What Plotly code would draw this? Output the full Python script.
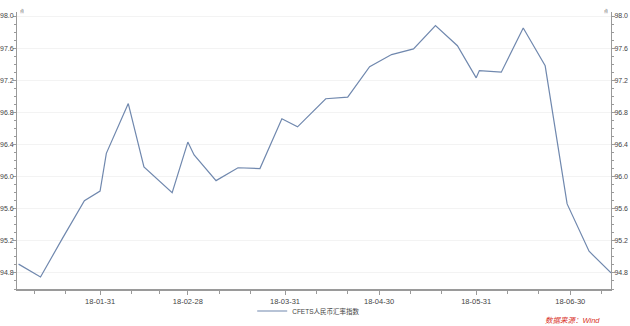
import plotly.graph_objects as go

dates = ["2018-01-05", "2018-01-12", "2018-01-19", "2018-01-26", "2018-01-31",
         "2018-02-02", "2018-02-09", "2018-02-14", "2018-02-23", "2018-02-28",
         "2018-03-02", "2018-03-09", "2018-03-16", "2018-03-23", "2018-03-30",
         "2018-04-04", "2018-04-13", "2018-04-20", "2018-04-27", "2018-05-04",
         "2018-05-11", "2018-05-18", "2018-05-25", "2018-05-31", "2018-06-01",
         "2018-06-08", "2018-06-15", "2018-06-22", "2018-06-29", "2018-07-06",
         "2018-07-13"]
values = [94.91, 94.75, 95.23, 95.70, 95.82,
          96.29, 96.91, 96.12, 95.80, 96.43,
          96.27, 95.95, 96.11, 96.10, 96.72,
          96.62, 96.97, 96.99, 97.37, 97.52,
          97.59, 97.88, 97.63, 97.23, 97.32,
          97.30, 97.85, 97.38, 95.66, 95.07,
          94.80]
series_name = "CFETS人民币汇率指数"
x_ticks = ["2018-01-31", "2018-02-28", "2018-03-31", "2018-04-30", "2018-05-31", "2018-06-30"]
x_tick_labels = ["18-01-31", "18-02-28", "18-03-31", "18-04-30", "18-05-31", "18-06-30"]
x_minor = ["2018-01-10", "2018-01-20", "2018-02-10", "2018-02-19", "2018-03-10", "2018-03-20",
           "2018-04-10", "2018-04-20", "2018-05-10", "2018-05-20", "2018-06-10", "2018-06-20",
           "2018-07-10"]
y_ticks = [94.8, 95.2, 95.6, 96.0, 96.4, 96.8, 97.2, 97.6, 98.0]

LINE = "#7088ae"
AX = "#9a9a9a"
TXT = "#444444"
FONT = "Liberation Sans, Noto Sans CJK SC, sans-serif"

fig = go.Figure()
fig.add_trace(go.Scatter(x=dates, y=values, mode="lines", name=series_name,
                         line=dict(color=LINE, width=1.2)))
fig.add_trace(go.Scatter(x=dates, y=values, mode="lines", yaxis="y2", showlegend=False,
                         line=dict(color="rgba(0,0,0,0)", width=0), hoverinfo="skip"))

yaxis_common = dict(
    range=[94.6, 98.05], tickvals=y_ticks, ticktext=[f"{v:.1f}" for v in y_ticks],
    ticks="outside", ticklen=3, tickcolor=AX, showline=True, linecolor=AX, linewidth=1,
    tickfont=dict(size=7, color=TXT, family=FONT), zeroline=False, automargin=False,
    ticklabelstandoff=-2,
    minor=dict(dtick=0.1, tick0=94.6, ticks="outside", ticklen=2, tickcolor=AX, showgrid=False),
)

fig.update_layout(
    width=630, height=326,
    margin=dict(l=17, r=19, t=12, b=37),
    paper_bgcolor="white", plot_bgcolor="white",
    font=dict(family=FONT, color=TXT),
    xaxis=dict(range=["2018-01-04 12:00", "2018-07-13"], tickvals=x_ticks, ticktext=x_tick_labels,
               ticks="outside", ticklen=4, tickcolor=AX, showline=True, linecolor=AX, linewidth=1.5,
               showgrid=False, tickfont=dict(size=7.5, color=TXT, family=FONT), automargin=False,
               minor=dict(tickvals=x_minor, ticks="outside", ticklen=3, tickcolor=AX, showgrid=False)),
    yaxis=dict(side="left", showgrid=True, gridcolor="#f3f3f3", gridwidth=1, **yaxis_common),
    yaxis2=dict(side="right", overlaying="y", showgrid=False, **yaxis_common),
    showlegend=True,
    legend=dict(orientation="h", x=0.49, xanchor="center", xref="container",
                y=(326 - 311) / 326, yanchor="middle", yref="container",
                font=dict(size=6.5, color=TXT, family=FONT), bgcolor="rgba(0,0,0,0)"),
    annotations=[
        dict(text="<i>数据来源：Wind</i>", xref="paper", yref="paper", x=0.985, y=-0.115,
             xanchor="right", yanchor="middle", showarrow=False,
             font=dict(size=7.5, color="#d9342b", family=FONT)),
        dict(text="点", xref="paper", yref="paper", x=0.0, y=1.0, xanchor="left", yanchor="bottom",
             showarrow=False, font=dict(size=4, color=TXT, family=FONT), xshift=1, yshift=-4),
        dict(text="点", xref="paper", yref="paper", x=1.0, y=1.0, xanchor="right", yanchor="bottom",
             showarrow=False, font=dict(size=4, color=TXT, family=FONT), xshift=-1, yshift=-4),
    ],
)

fig.write_html("out.html")
